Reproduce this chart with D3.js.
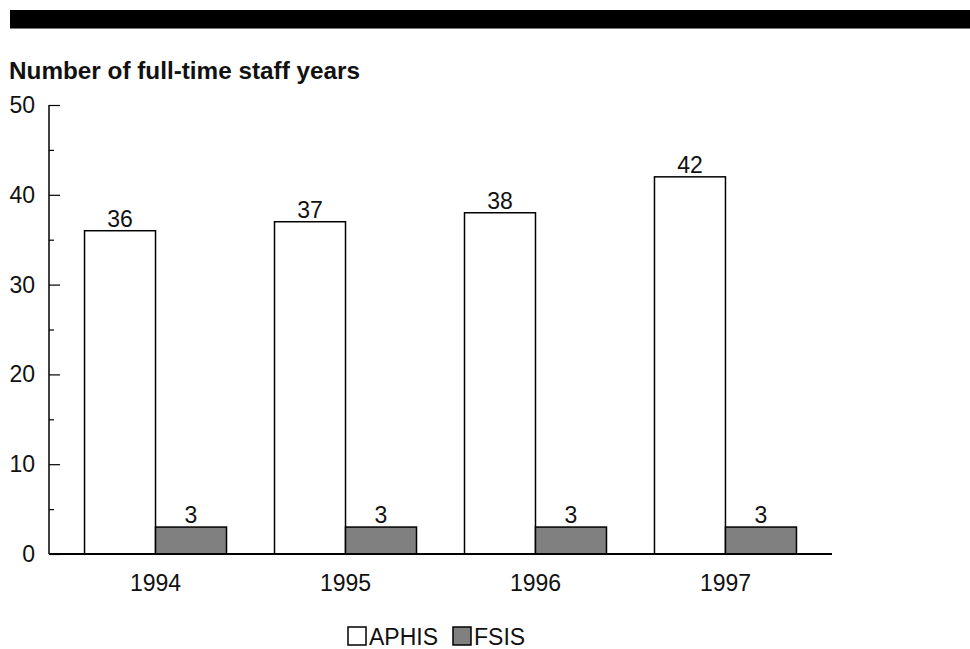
<html>
<head>
<script src="https://d3js.org/d3.v7.min.js"></script>
<style>
  body { margin: 0; background: #fff; }
  text { font-family: "Liberation Sans", Arial, sans-serif; fill: #111; }
</style>
</head>
<body>
<svg id="chart" width="970" height="649"></svg>
<script>
// data
const years = ['1994', '1995', '1996', '1997']
const seriesNames = ['APHIS', 'FSIS']
const aphis = [36, 37, 38, 42]
const fsis = [3, 3, 3, 3]
const yTicks = [0, 10, 20, 30, 40, 50]
const colors = { APHIS: '#ffffff', FSIS: '#808080' }

const svg = d3.select('#chart')
const fs = '23px'

// header band
svg.append('rect').attr('x', 10).attr('y', 10).attr('width', 960).attr('height', 18).attr('fill', '#000')
svg.append('line').attr('x1', 10).attr('x2', 970).attr('y1', 28.5).attr('y2', 28.5).attr('stroke', '#777').attr('stroke-width', 1)

svg.append('text').attr('x', 9).attr('y', 79).text('Number of full-time staff years')
  .style('font-weight', 'bold').style('font-size', '24.3px')

const plotLeft = 49, plotRight = 832, plotTop = 105, plotBottom = 554

const x0 = d3.scaleBand().domain(years).range([plotLeft, plotRight]).paddingInner(0.2526).paddingOuter(0.187)
const x1 = d3.scaleBand().domain(seriesNames).range([0, x0.bandwidth()])
const y = d3.scaleLinear().domain([0, 50]).range([plotBottom, plotTop])

const rows = years.map((yr, i) => ({ year: yr, APHIS: aphis[i], FSIS: fsis[i] }))

// y axis with ticks pointing inward
const yAxis = svg.append('g').attr('transform', `translate(${plotLeft},0)`)
  .call(d3.axisRight(y).tickValues(d3.range(0, 51, 5)).tickSize(0).tickFormat(''))
yAxis.select('.domain').remove()
yAxis.append('line').attr('x1', 0).attr('x2', 0).attr('y1', plotTop).attr('y2', plotBottom).attr('stroke', '#000').attr('stroke-width', 1.5)
yAxis.selectAll('.tick line').attr('x2', d => d % 10 === 0 ? 11 : 5).attr('stroke', '#000').attr('stroke-width', 1.2)
svg.selectAll('.ylab').data(yTicks).enter().append('text')
  .attr('x', 35).attr('y', d => y(d) + 8).attr('text-anchor', 'end')
  .style('font-size', fs).text(d => d)

// bars
const groups = svg.selectAll('.grp').data(rows).enter().append('g')
  .attr('transform', d => `translate(${x0(d.year)},0)`)
groups.selectAll('rect').data(d => seriesNames.map(k => ({ key: k, value: d[k] }))).enter().append('rect')
  .attr('x', d => x1(d.key)).attr('y', d => y(d.value))
  .attr('width', x1.bandwidth()).attr('height', d => plotBottom - y(d.value))
  .attr('fill', d => colors[d.key]).attr('stroke', '#000').attr('stroke-width', 1.5)
groups.selectAll('.val').data(d => seriesNames.map(k => ({ key: k, value: d[k] }))).enter().append('text')
  .attr('x', d => x1(d.key) + x1.bandwidth() / 2).attr('y', d => y(d.value) - 4)
  .attr('text-anchor', 'middle').style('font-size', fs).text(d => d.value)

// x axis
svg.append('line').attr('x1', plotLeft).attr('x2', plotRight).attr('y1', plotBottom).attr('y2', plotBottom).attr('stroke', '#000').attr('stroke-width', 2)
svg.selectAll('.xlab').data(years).enter().append('text')
  .attr('x', d => x0(d) + x0.bandwidth() / 2).attr('y', 591).attr('text-anchor', 'middle')
  .style('font-size', fs).text(d => d)

// legend
const legend = [{ key: 'APHIS', x: 348 }, { key: 'FSIS', x: 453 }]
legend.forEach(l => {
  svg.append('rect').attr('x', l.x).attr('y', 627).attr('width', 18).attr('height', 18)
    .attr('fill', colors[l.key]).attr('stroke', '#000').attr('stroke-width', 1.5)
  svg.append('text').attr('x', l.x + 21).attr('y', 645).style('font-size', fs).text(l.key)
})
</script>
</body>
</html>
